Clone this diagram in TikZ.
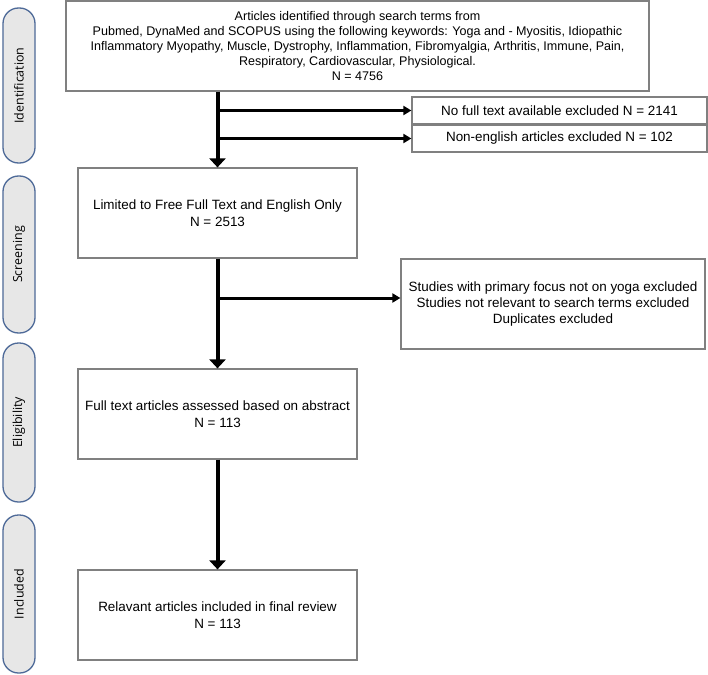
\documentclass[tikz,border=0pt]{standalone}
\usepackage{fontspec}
\setmainfont{Liberation Sans}
\newfontfamily\sidefont{Open Sans}
\usepackage{tikz}
\usetikzlibrary{arrows.meta, positioning, calc}
\definecolor{pillfill}{RGB}{231, 231, 231}
\definecolor{pillblue}{RGB}{78, 106, 152}
\definecolor{boxgray}{RGB}{128, 128, 128}

\begin{document}
\begin{tikzpicture}[x=1bp, y=-1bp,
    every node/.style={font=\fontsize{13.5}{16.5}\selectfont, align=center, inner sep=0pt},
    flowbox/.style={draw=boxgray, line width=1.2bp, minimum height=90bp},
    stagepill/.style={draw=pillblue, fill=pillfill, line width=1.3bp, rounded corners=15.5bp,
      rotate=90, minimum height=32bp, font=\sidefont\fontsize{12.5}{14}\selectfont},
    mainflow/.style={line width=4bp, -{Triangle[width=16bp, length=9bp]}},
    sideflow/.style={line width=2.2bp, -{Triangle[width=9bp, length=8bp]}}]
  \useasboundingbox (0,0) rectangle (708,675);

  % Stage labels on the left
  \node[stagepill, minimum width=155bp] (pidnt) at (19, 85.5) {Identification};
  \node[stagepill, minimum width=157bp] (pscrn) at (19, 254.5) {Screening};
  \node[stagepill, minimum width=159bp] (pelig) at (19, 422.5) {Eligibility};
  \node[stagepill, minimum width=158bp] (pincl) at (19, 594) {Included};

  % Main flow boxes
  \node[flowbox, minimum width=583bp, font=\fontsize{12.6}{15}\selectfont] (ident) at (357.5, 46) {Articles identified through search terms from\\
    Pubmed, DynaMed and SCOPUS using the following keywords: Yoga and - Myositis, Idiopathic\\
    Inflammatory Myopathy, Muscle, Dystrophy, Inflammation, Fibromyalgia, Arthritis, Immune, Pain,\\
    Respiratory, Cardiovascular, Physiological.\\
    N = 4756};
  \node[flowbox, minimum width=279bp] (screen) at (217.5, 213) {Limited to Free Full Text and English Only\\ N = 2513};
  \node[flowbox, minimum width=279bp] (elig) at (217.5, 414) {Full text articles assessed based on abstract\\ N = 113};
  \node[flowbox, minimum width=279bp] (incl) at (217.5, 615) {Relavant articles included in final review\\ N = 113};

  % Exclusions
  \node[flowbox, minimum width=295bp, minimum height=27bp] (nofull) at (559.5, 110.5) {No full text available excluded N = 2141};
  \node[flowbox, minimum width=295bp, minimum height=27bp] (noneng) at (559.5, 138.5) {Non-english articles excluded N = 102};
  \node[flowbox, minimum width=304bp] (focus) at (553, 304) {Studies with primary focus not on yoga excluded\\
    Studies not relevant to search terms excluded\\ Duplicates excluded};

  % Arrows
  \draw[mainflow] (ident.south -| screen.north) -- (screen.north);
  \draw[mainflow] (screen) -- (elig);
  \draw[mainflow] (elig) -- (incl);
  \draw[sideflow] (nofull.west -| screen.north) -- (nofull.west);
  \draw[sideflow] (noneng.west -| screen.north) -- (noneng.west);
  \draw[sideflow, line width=3bp] ([yshift=6bp]focus.west -| screen.south) -- ([yshift=6bp]focus.west);
\end{tikzpicture}
\end{document}
